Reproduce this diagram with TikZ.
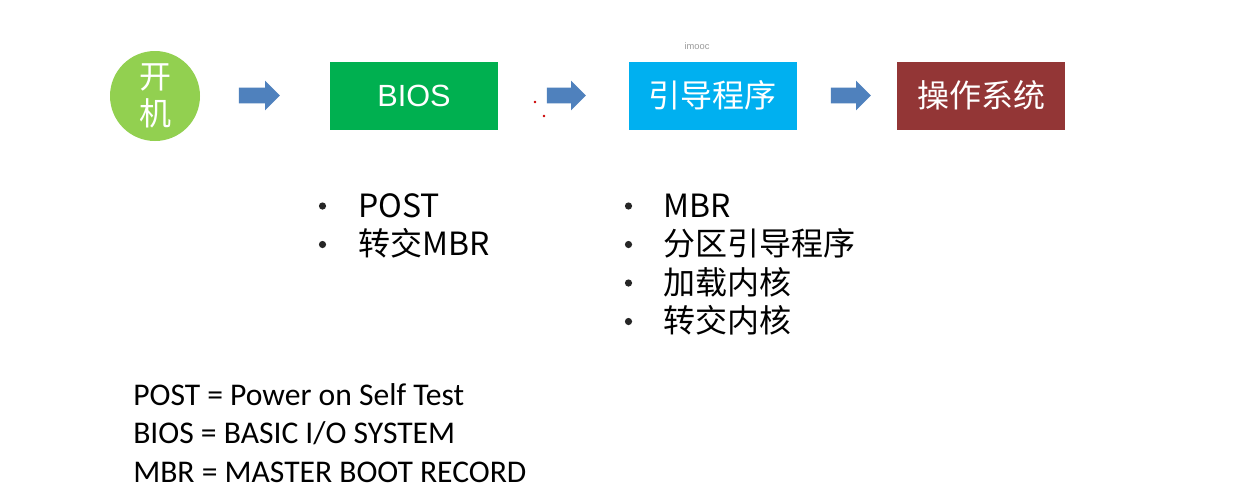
\documentclass[tikz,border=0pt]{standalone}
\usepackage{fontspec}
\usetikzlibrary{shapes.arrows}
\setmainfont{Noto Sans CJK SC}
\newfontfamily\cjkf{Noto Sans CJK SC}
\newfontfamily\arialf{Liberation Sans}
\newfontfamily\calibrif{Carlito}
\definecolor{startgreen}{HTML}{92D050}
\definecolor{biosgreen}{HTML}{00B050}
\definecolor{bootblue}{HTML}{00B0F0}
\definecolor{osred}{HTML}{933636}
\definecolor{arrowblue}{HTML}{4F81BD}
\definecolor{wmgray}{HTML}{9A9A9A}
\tikzset{
  stage/.style={draw=none, fill=#1, minimum width=126pt, minimum height=51pt,
    inner sep=0pt, text=white, font=\cjkf\fontsize{24}{28}\selectfont},
  blockarrow/.style={single arrow, fill=arrowblue, draw=none, inner xsep=0pt,
    inner ysep=5.625pt, single arrow head extend=5.25pt, minimum height=#1},
  bulletdot/.style={circle, fill=black!85, minimum size=5.4pt, inner sep=0pt},
  item/.style={anchor=base west, font=\cjkf\fontsize{24}{28}\selectfont, inner sep=0pt},
  note/.style={anchor=base west, font=\calibrif\fontsize{23.7}{28}\selectfont, inner sep=0pt},
}
\begin{document}
\begin{tikzpicture}[x=0.75pt, y=-0.75pt]
\useasboundingbox[fill=white] (0,0) rectangle (1238,490);

% power-on circle
\node[circle, fill=startgreen, minimum size=67.5pt, inner sep=0pt, text=white,
      align=center, font=\cjkf\fontsize{24}{27.75}\selectfont] (start) at (155,96) {开\\机};

% stages
\node[stage=biosgreen] (bios) at (414,95.5) {\arialf\fontsize{23}{28}\selectfont BIOS};
\node[stage=bootblue] (loader) at (712.5,95.5) {引导程序};
\node[stage=osred] (os) at (981,95.5) {操作系统};

% block arrows between the stages
\node[blockarrow=30.75pt] (a1) at (255.5,95.5) {};
\node[blockarrow=29.25pt] (a2) at (562.5,95.5) {};
\node[blockarrow=30pt] (a3) at (847,95.5) {};

% small marks and watermark
\fill[red!80!black] (535,102) circle (1pt);
\fill[red!80!black] (544,116) circle (1pt);
\node[text=wmgray, font=\arialf\fontsize{7}{8}\selectfont] (wm) at (697,46) {imooc};

% BIOS tasks
\node[bulletdot] (b1) at (322.5,206) {};
\node[item] (t1) at (358,217) {POST};
\node[bulletdot] (b2) at (322.5,244.5) {};
\node[item] (t2) at (358,255.5) {转交MBR};

% boot loader tasks
\node[bulletdot] (c1) at (628.5,206) {};
\node[item] (s1) at (663,217) {MBR};
\node[bulletdot] (c2) at (628.5,244.5) {};
\node[item] (s2) at (663,255.5) {分区引导程序};
\node[bulletdot] (c3) at (628.5,283) {};
\node[item] (s3) at (663,294) {加载内核};
\node[bulletdot] (c4) at (628.5,321.5) {};
\node[item] (s4) at (663,332.5) {转交内核};

% abbreviations
\node[note] (n1) at (133,405) {POST = Power on Self Test};
\node[note] (n2) at (133,443.5) {BIOS = BASIC I/O SYSTEM};
\node[note] (n3) at (133,482) {MBR = MASTER BOOT RECORD};
\end{tikzpicture}
\end{document}
